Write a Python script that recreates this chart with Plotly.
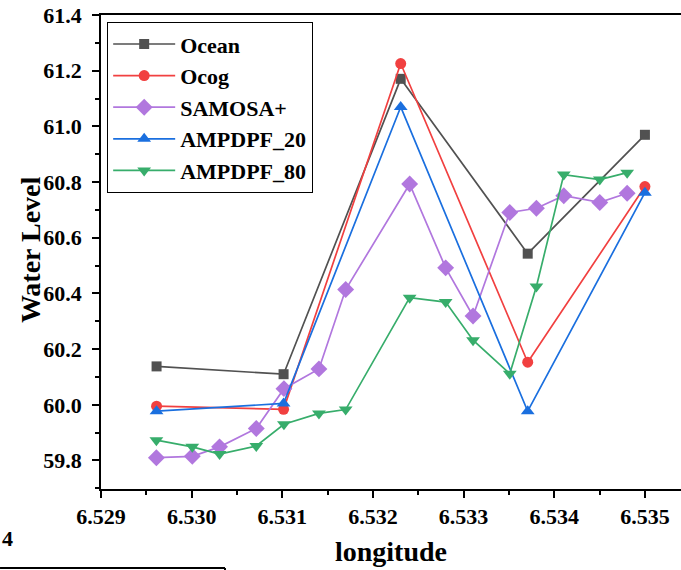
import plotly.graph_objects as go

# Data
ocean_x = [6.529613, 6.531014, 6.532306, 6.533707, 6.535000]
ocean_y = [60.138, 60.110, 61.171, 60.543, 60.970]

ocog_x = [6.529613, 6.531014, 6.532306, 6.533707, 6.535000]
ocog_y = [59.995, 59.984, 61.226, 60.153, 60.784]

samosa_x = [6.529611, 6.530007, 6.530308, 6.530713, 6.531018, 6.531404, 6.531699,
            6.532405, 6.532802, 6.533104, 6.533509, 6.533803, 6.534105, 6.534502, 6.534804]
samosa_y = [59.810, 59.815, 59.849, 59.915, 60.058, 60.129, 60.414,
            60.793, 60.492, 60.319, 60.691, 60.706, 60.751, 60.727, 60.760]

amp20_x = [6.529613, 6.531014, 6.532306, 6.533707, 6.535000]
amp20_y = [59.977, 60.005, 61.070, 59.977, 60.762]

amp80_x = [6.529611, 6.530007, 6.530308, 6.530713, 6.531018, 6.531404, 6.531699,
           6.532405, 6.532802, 6.533104, 6.533509, 6.533803, 6.534105, 6.534502, 6.534804]
amp80_y = [59.873, 59.849, 59.823, 59.852, 59.930, 59.969, 59.983,
           60.385, 60.369, 60.232, 60.112, 60.425, 60.827, 60.809, 60.834]

x_tickvals = [6.529, 6.530, 6.531, 6.532, 6.533, 6.534, 6.535]
x_ticktext = ["6.529", "6.530", "6.531", "6.532", "6.533", "6.534", "6.535"]
y_tickvals = [59.8, 60.0, 60.2, 60.4, 60.6, 60.8, 61.0, 61.2, 61.4]
y_ticktext = ["59.8", "60.0", "60.2", "60.4", "60.6", "60.8", "61.0", "61.2", "61.4"]

FONT = "Liberation Serif"

series = [
    ("Ocean", ocean_x, ocean_y, "#515151", "square", 10),
    ("Ocog", ocog_x, ocog_y, "#F14040", "circle", 11),
    ("SAMOSA+", samosa_x, samosa_y, "#B177DE", "diamond", 13),
    ("AMPDPF_20", amp20_x, amp20_y, "#1A6FDF", "triangle-up", 12),
    ("AMPDPF_80", amp80_x, amp80_y, "#37AD6B", "triangle-down", 12),
]

fig = go.Figure()
for name, xs, ys, col, sym, sz in series:
    fig.add_trace(go.Scatter(
        x=xs, y=ys, name=name, mode="lines+markers",
        line=dict(color=col, width=1.7),
        marker=dict(color=col, symbol=sym, size=sz, line=dict(width=0)),
    ))

axis_common = dict(
    showline=True, linecolor="black", linewidth=1.8,
    ticks="outside", ticklen=7, tickwidth=1.6, tickcolor="black",
    showgrid=False, zeroline=False, automargin=False,
    tickfont=dict(family=FONT, size=22, color="black", weight="bold"),
)

fig.update_xaxes(
    range=[6.529, 6.535398], tickvals=x_tickvals, ticktext=x_ticktext,
    mirror=True,
    minor=dict(ticks="outside", ticklen=4, tickwidth=1.6, tickcolor="black", dtick=0.0005),
    title=dict(text="<b>longitude</b>", font=dict(family=FONT, size=28, color="black"), standoff=13),
    **axis_common,
)
fig.update_yaxes(
    range=[59.6976, 61.4003], tickvals=y_tickvals, ticktext=y_ticktext,
    ticklabelstandoff=6, ticklabeloverflow="allow",
    minor=dict(ticks="outside", ticklen=4, tickwidth=1.6, tickcolor="black", dtick=0.1, tick0=59.7),
    **axis_common,
)

fig.update_layout(
    width=681, height=570,
    margin=dict(l=101, r=0, t=15, b=81),
    paper_bgcolor="white", plot_bgcolor="white",
    showlegend=True,
    legend=dict(
        x=0.0103, y=0.9852, xanchor="left", yanchor="top",
        bgcolor="white", bordercolor="black", borderwidth=1.2,
        font=dict(family=FONT, size=22, color="black", weight="bold"),
        traceorder="normal", itemwidth=62,
    ),
)

# y-axis title placed precisely
fig.add_annotation(text="<b>Water Level</b>", xref="paper", yref="paper", x=-0.1224, y=0.504,
                   xanchor="center", yanchor="middle", textangle=-90, showarrow=False,
                   font=dict(family=FONT, size=28, color="black"))

# partial remnants of a neighbouring panel at the bottom-left
fig.add_annotation(text="<b>4</b>", xref="paper", yref="paper", x=-0.1741, y=-0.1034,
                   xanchor="left", yanchor="middle", showarrow=False,
                   font=dict(family=FONT, size=22, color="black"))
fig.add_shape(type="line", xref="paper", yref="paper", x0=-0.1741, x1=0.2138,
              y0=-0.1667, y1=-0.1667, line=dict(color="black", width=2))
fig.add_shape(type="line", xref="paper", yref="paper", x0=0.2138, x1=0.2138,
              y0=-0.1667, y1=-0.18, line=dict(color="black", width=2))

fig.write_html("out.html", config={"displayModeBar": False},
               post_script="document.body.style.margin='0px';")
